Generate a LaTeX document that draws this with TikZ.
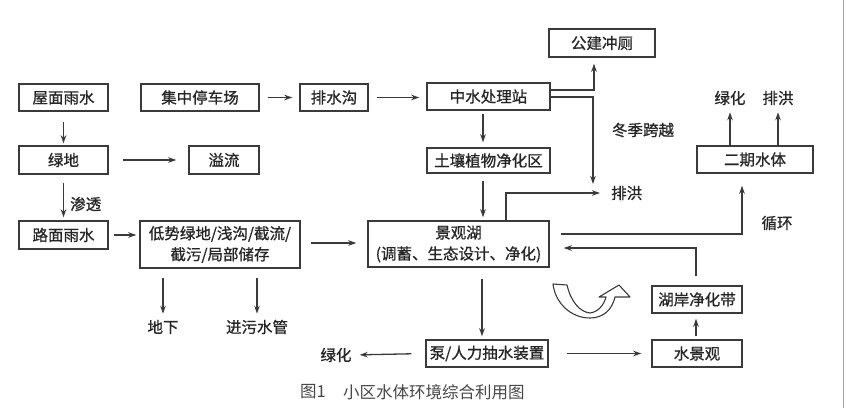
\documentclass[tikz,border=0pt]{standalone}
\usepackage{fontspec}
\newfontfamily\cjk[FakeBold=0.9]{Noto Sans CJK SC}
\newfontfamily\cjkcap{Noto Sans CJK SC}
\usetikzlibrary{arrows.meta}
\definecolor{ink}{HTML}{262626}
\definecolor{ln}{HTML}{3A3A3A}
\begin{document}
\begin{tikzpicture}[x=1pt,y=-1pt,
  box/.style={draw=ln, line width=1.4pt, inner sep=0pt, minimum height=27pt, text=ink,
    font=\cjk\fontsize{15.5}{18}\selectfont, align=center},
  lbl/.style={inner sep=0pt, text=ink, font=\cjk\fontsize{15.5}{18}\selectfont},
  arr/.style={draw=ln, line width=1.3pt, -{Stealth[length=8pt,width=5.5pt]}},
  captext/.style={inner sep=0pt, text=ink!85, font=\cjkcap\fontsize{16.5}{18}\selectfont}]
\useasboundingbox (0,0) rectangle (845,408);
\fill[white] (0,0) rectangle (845,408);
\draw[gray!70, line width=1.2pt] (843.5,0) -- (843.5,408);

% boxes
\node[box, minimum width=89pt] (roof) at (63.5,97.5) {屋面雨水};
\node[box, minimum width=118pt] (park) at (200,97.5) {集中停车场};
\node[box, minimum width=68pt] (ditch) at (334,97.5) {排水沟};
\node[box, minimum width=123pt] (reuse) at (488.5,96.5) {中水处理站};
\node[box, minimum width=106pt, minimum height=28pt] (toilet) at (602,43) {公建冲厕};
\node[box, minimum width=89pt, minimum height=28pt] (green) at (63.5,160) {绿地};
\node[box, minimum width=70pt, minimum height=28pt] (overflow) at (224,160) {溢流};
\node[box, minimum width=123pt, minimum height=25pt] (soil) at (488.5,160.5) {土壤植物净化区};
\node[box, minimum width=89pt, minimum height=28pt] (road) at (63.5,235) {路面雨水};
\node[box, minimum width=160pt, minimum height=47pt, font=\cjk\fontsize{15.5}{21}\selectfont] (low) at (220,244.5) {低势绿地/浅沟/截流/\\截污/局部储存};
\node[box, minimum width=181pt, minimum height=46pt, font=\cjk\fontsize{15.5}{21}\selectfont] (lake) at (458.5,244) {景观湖\\(调蓄、生态设计、净化)};
\node[box, minimum width=116pt] (phase2) at (755,159.5) {二期水体};
\node[box, minimum width=90pt] (shore) at (697,299.5) {湖岸净化带};
\node[box, minimum width=90pt] (fountain) at (697,353.5) {水景观};
\node[box, minimum width=122pt] (pump) at (487,353.5) {泵/人力抽水装置};

% text labels
\node[lbl, anchor=west] (seep) at (70,204) {渗透};
\node[lbl, anchor=west] (flood1) at (611,193) {排洪};
\node[lbl] (winter) at (643,130) {冬季跨越};
\node[lbl] (g2) at (730,98) {绿化};
\node[lbl] (flood2) at (778,98) {排洪};
\node[lbl] (cycle) at (777,223) {循环};
\node[lbl] (under) at (163,327) {地下};
\node[lbl] (sewer) at (257,327) {进污水管};
\node[lbl] (g3) at (336,355) {绿化};
\coordinate (flooddown) at (593,184);

% caption
\node[captext, anchor=west] (capnum) at (300,392) {图1};
\node[captext, anchor=west] (captxt) at (343,392) {小区水体环境综合利用图};

% connectors
\draw[arr, shorten <=10pt, shorten >=2pt] (roof.south) -- (green.north);
\draw[arr, shorten <=14pt, shorten >=12pt] (green.east) -- (overflow.west);
\draw[arr, shorten <=8pt, shorten >=3pt] (green.south) -- (road.north);
\draw[arr, shorten <=8pt, shorten >=7pt] (park.east) -- (ditch.west);
\draw[arr, shorten <=8pt, shorten >=7pt] (ditch.east) -- (reuse.west |- ditch.east);
\draw[arr, shorten <=5pt, shorten >=3pt] (road.east) -- (road.east -| low.west);
\draw[arr, shorten <=10pt, shorten >=11pt] (low.east |- 0,243) -- (lake.west |- 0,243);
\draw[arr, shorten <=9pt, shorten >=6pt] (low.south -| under.north) -- (under.north);
\draw[arr, shorten <=9pt, shorten >=6pt] (low.south -| sewer.north) -- (sewer.north);

\draw[arr, shorten >=6pt] (reuse.east |- 0,90) -| ([xshift=-8pt]toilet.south);
\draw[arr] (reuse.east |- 0,97) -| (flooddown);
\draw[arr, shorten <=3pt, shorten >=5pt] (reuse.south -| 483,0) -- (soil.north -| 483,0);
\draw[arr, shorten <=7pt, shorten >=3pt] (soil.south -| 483,0) -- (lake.north -| 483,0);
\draw[arr, shorten >=11pt] (lake.north -| 506,0) |- (flood1.west);

\draw[arr, shorten <=11pt, shorten >=12pt] (lake.east |- 0,234) -| (phase2.south -| 742,0);
\draw[arr, shorten >=7pt] (phase2.north -| g2.south) -- (g2.south);
\draw[arr, shorten >=7pt] (phase2.north -| flood2.south) -- (flood2.south);
\draw[arr, shorten <=9pt, shorten >=14pt] (shore.north -| 696,0) |- (lake.east |- 0,248);
\draw[arr, shorten <=3pt, shorten >=5pt] (fountain.north -| 696,0) -- (shore.south -| 696,0);
\draw[arr, shorten <=11pt, shorten >=3pt] (lake.south -| 482,0) -- (pump.north -| 482,0);
\draw[arr, shorten <=18pt, shorten >=10pt] (pump.east) -- (fountain.west);
\draw[arr, shorten <=14pt, shorten >=8pt] (pump.west) -- (g3.east);

% curved outline arrow
\draw[ln, line width=1.1pt, line join=round]
  (553,284) -- (567,285) .. controls (571,302) and (580,312) .. (590,313)
  .. controls (598,312) and (604,305) .. (606,297) -- (599,297) -- (619,285) -- (630,297) -- (615,297)
  .. controls (612,310) and (603,318) .. (590,318)
  .. controls (570,318) and (555,302) .. cycle;
\end{tikzpicture}
\end{document}
